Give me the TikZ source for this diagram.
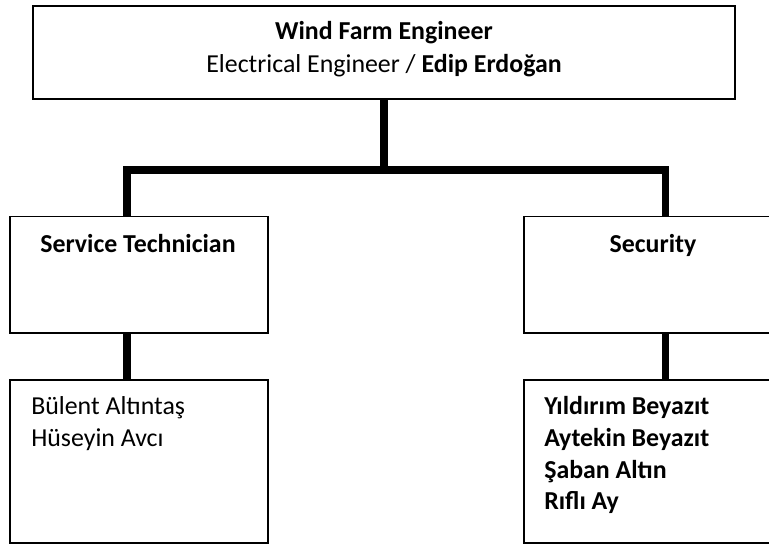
\documentclass[tikz,border=0pt]{standalone}
\usepackage{fontspec}
\setmainfont{Carlito}
\begin{document}
\begin{tikzpicture}[x=1pt,y=1pt,
  box/.style={draw=black, line width=1.2pt, fill=white, rectangle, inner sep=0pt},
  link/.style={line width=5.4pt, line join=miter},
  lbl/.style={inner sep=0pt, font=\fontsize{19.4}{24}\selectfont}]
\useasboundingbox (0,0) rectangle (576.75,-410.25);
% boxes
\node[box, minimum width=526.5pt, minimum height=69.75pt] (top) at (288,-39.4) {};
\node[box, minimum width=193.5pt, minimum height=87.4pt] (midL) at (104.25,-206.1) {};
\node[box, minimum width=192.75pt, minimum height=87.4pt] (midR) at (489.4,-206.1) {};
\node[box, minimum width=193.5pt, minimum height=122.25pt] (botL) at (104.25,-346.1) {};
\node[box, minimum width=192.75pt, minimum height=122.25pt] (botR) at (489.4,-346.1) {};
% connector coordinates
\coordinate (busL) at (95.25,-127.5);
\coordinate (busR) at (499.1,-127.5);
\draw[link] (top.south) -- (top.south |- busL);
\draw[link] (busL |- midL.north) -- (busL) -- (busR) -- (busR |- midR.north);
\draw[link] (busL |- midL.south) -- (busL |- botL.north);
\draw[link] (busR |- midR.south) -- (busR |- botR.north);
% labels
\node[lbl, anchor=base] (t1) at (288,-29.25) {\textbf{Wind Farm Engineer}};
\node[lbl, anchor=base] (t2) at (288,-54) {Electrical Engineer / \textbf{Edip Erdoğan}};
\node[lbl, anchor=base] (s1) at (103.5,-189) {\textbf{Service Technician}};
\node[lbl, anchor=base] (s2) at (489.75,-189) {\textbf{Security}};
\node[lbl, anchor=base west, align=left] (n1) at (23.25,-334.9) {Bülent Altıntaş\\Hüseyin Avcı};
\node[lbl, anchor=base west, align=left, font=\fontsize{19.4}{23.8}\selectfont\bfseries] (n2) at (408,-382.3) {Yıldırım Beyazıt\\Aytekin Beyazıt\\Şaban Altın\\Rıflı Ay};
\end{tikzpicture}
\end{document}
